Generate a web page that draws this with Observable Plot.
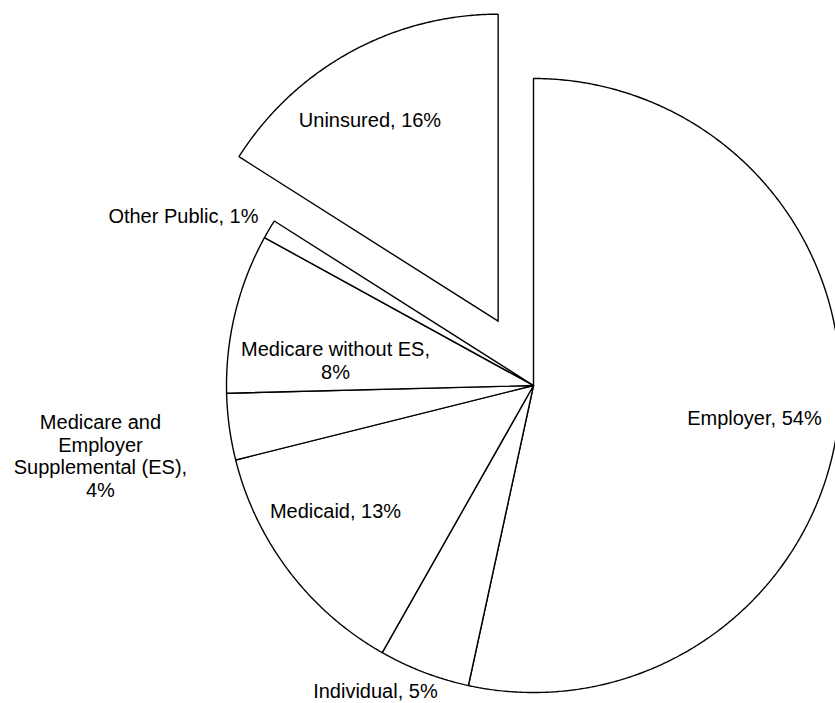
<!DOCTYPE html>
<html>
<head>
<meta charset="utf-8">
<script src="https://cdn.jsdelivr.net/npm/d3@7"></script>
<script src="https://cdn.jsdelivr.net/npm/@observablehq/plot@0.6"></script>
<style>
html, body { margin: 0; padding: 0; background: #fff; overflow: hidden; }
</style>
</head>
<body>
<div id="chart"></div>
<script>
// ---- data ----
const categories = ["Employer", "Individual", "Medicaid", "Medicare and Employer Supplemental (ES)", "Medicare without ES", "Other Public", "Uninsured"];
const shares = [53.4, 4.8, 12.9, 3.5, 8.4, 1.0, 16.0];
const labels = ["Employer, 54%", "Individual, 5%", "Medicaid, 13%", "Medicare and\nEmployer\nSupplemental (ES),\n4%", "Medicare without ES,\n8%", "Other Public, 1%", "Uninsured, 16%"];
const explodedCategory = "Uninsured";

// ---- layout (pixels / polar label placement) ----
const W = 835, H = 703;
const CX = 533, CY = 385, R = 307;
const explodeFrac = 0.239;
// [angle clockwise from top (deg), radius fraction, text anchor]
const labelAngle = [98.2, 207.4, 237.7, 260.8, 277.2, 301.7, 327.6];
const labelRadius = [0.727, 1.119, 0.763, 1.429, 0.650, 1.053, 0.779];
const labelAnchor = ["middle", "middle", "middle", "middle", "middle", "end", "middle"];

const total = d3.sum(shares);
const rad = d => d * Math.PI / 180;
const pt = (deg, r) => [Math.sin(rad(deg)) * r, Math.cos(rad(deg)) * r];

let acc = 0;
const slices = categories.map((c, i) => {
  const a0 = acc / total * 360; acc += shares[i];
  const a1 = acc / total * 360;
  return {c, a0, a1, mid: (a0 + a1) / 2, off: c === explodedCategory ? explodeFrac : 0};
});

const polys = [];
for (const s of slices) {
  const [ox, oy] = pt(s.mid, s.off);
  polys.push({c: s.c, x: ox, y: oy});
  const n = Math.max(2, Math.ceil((s.a1 - s.a0) / 0.4));
  for (let k = 0; k <= n; k++) {
    const a = s.a0 + (s.a1 - s.a0) * k / n;
    const [x, y] = pt(a, 1);
    polys.push({c: s.c, x: x + ox, y: y + oy});
  }
  polys.push({c: s.c, x: ox, y: oy});
}

const labelData = slices.map((s, i) => {
  const [ox, oy] = pt(s.mid, s.off);
  const [x, y] = pt(labelAngle[i], labelRadius[i]);
  return {text: labels[i], x: x + ox, y: y + oy, anchor: labelAnchor[i]};
});

const font = "'Liberation Sans', Arial, Helvetica, sans-serif";
const chart = Plot.plot({
  width: W,
  height: H,
  margin: 0,
  x: {domain: [-CX / R, (W - CX) / R], axis: null},
  y: {domain: [-(H - CY) / R, CY / R], axis: null},
  style: {background: "white", fontFamily: font},
  marks: [
    Plot.line(polys, {x: "x", y: "y", z: "c", fill: "white", stroke: "black", strokeWidth: 1.4, strokeLinejoin: "miter", curve: "linear", clip: true}),
    Plot.text(labelData.filter(d => d.anchor === "middle"), {x: "x", y: "y", text: "text", textAnchor: "middle", lineAnchor: "middle", fontSize: 20, lineHeight: 1.15, fill: "black", fontFamily: font}),
    Plot.text(labelData.filter(d => d.anchor === "end"), {x: "x", y: "y", text: "text", textAnchor: "end", lineAnchor: "middle", fontSize: 20, lineHeight: 1.15, fill: "black", fontFamily: font})
  ]
});
document.getElementById("chart").appendChild(chart);
</script>
</body>
</html>
